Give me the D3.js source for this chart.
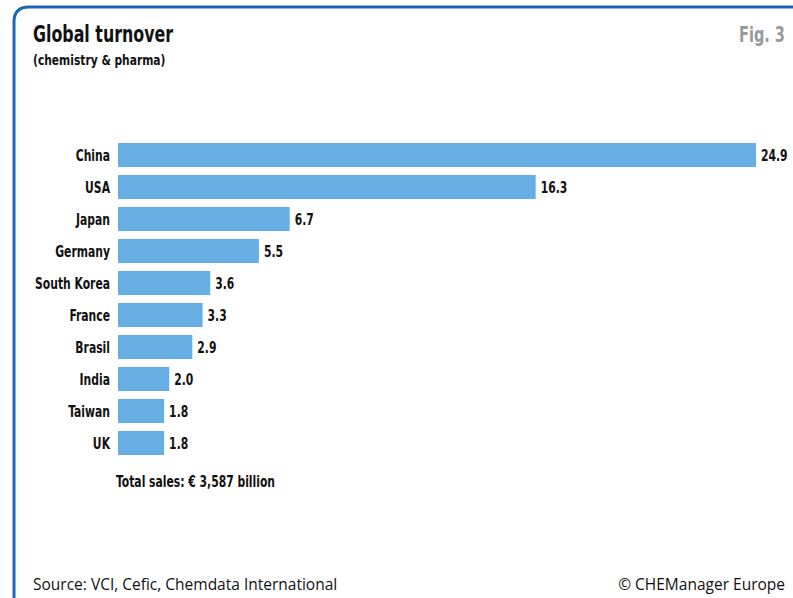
<!DOCTYPE html>
<html>
<head>
<meta charset="utf-8">
<script src="https://d3js.org/d3.v7.min.js"></script>
<style>
body { margin: 0; background: #fff; }
svg { display: block; }
.cond { font-family: "DejaVu Sans Condensed", "Liberation Sans Narrow", sans-serif; font-weight: bold; fill: #111; }
.foot { font-family: "Open Sans", "Noto Sans", sans-serif; fill: #111; }
</style>
</head>
<body>
<svg id="chart" width="793" height="598"></svg>
<script>
  // values
  var countries = ["China", "USA", "Japan", "Germany", "South Korea", "France", "Brasil", "India", "Taiwan", "UK"];
  var turnover = [24.9, 16.3, 6.7, 5.5, 3.6, 3.3, 2.9, 2.0, 1.8, 1.8];
  var valueLabels = ["24.9", "16.3", "6.7", "5.5", "3.6", "3.3", "2.9", "2.0", "1.8", "1.8"];

  var svg = d3.select("#chart");

  // squeeze the font horizontally to get a condensed look
  function condText(px, py, size, sx, anchor, txt, fill) {
    return svg.append("text").attr("class", "cond")
        .attr("transform", "translate(" + px + "," + py + ") scale(" + sx + ",1)")
        .attr("text-anchor", anchor)
        .style("font-size", size + "px")
        .style("fill", fill || "#111")
        .text(txt);
  }

  // frame: rounded blue line along top and left
  svg.append("path")
      .attr("d", "M14,598 L14,22 Q14,7 29,7 L793,7")
      .attr("fill", "none")
      .attr("stroke", "#1a64b9")
      .attr("stroke-width", 3);

  condText(33, 42, 23.5, 0.75, "start", "Global turnover");
  condText(33, 65, 14, 0.85, "start", "(chemistry & pharma)");
  condText(785, 42, 21, 0.77, "end", "Fig. 3", "#999");

  var x = d3.scaleLinear()
      .domain([0, 24.9])
      .range([118, 756]);

  var y = d3.scaleBand()
      .domain(countries)
      .range([143, 455])
      .paddingInner(0.25)
      .paddingOuter(0);

  var rows = svg.selectAll(".row")
      .data(countries)
    .enter().append("g")
      .attr("class", "row");

  rows.append("rect")
      .attr("x", x(0))
      .attr("y", function(d) { return y(d); })
      .attr("width", function(d, i) { return x(turnover[i]) - x(0); })
      .attr("height", y.bandwidth())
      .attr("fill", "#67aee4");

  rows.append("text").attr("class", "cond")
      .attr("transform", function(d) {
        return "translate(110," + (y(d) + y.bandwidth() / 2 + 5.5) + ") scale(0.8,1)";
      })
      .attr("text-anchor", "end")
      .style("font-size", "15px")
      .text(function(d) { return d; });

  rows.append("text").attr("class", "cond")
      .attr("transform", function(d, i) {
        return "translate(" + (x(turnover[i]) + 5) + "," + (y(d) + y.bandwidth() / 2 + 5.5) + ") scale(0.8,1)";
      })
      .style("font-size", "15px")
      .text(function(d, i) { return valueLabels[i]; });

  condText(116, 487, 15, 0.8, "start", "Total sales: € 3,587 billion");

  svg.append("text").attr("class", "foot")
      .attr("x", 33).attr("y", 590)
      .style("font-size", "15.5px")
      .text("Source: VCI, Cefic, Chemdata International");

  svg.append("text").attr("class", "foot")
      .attr("x", 785).attr("y", 590)
      .attr("text-anchor", "end")
      .style("font-size", "15.5px")
      .text("© CHEManager Europe");
</script>
</body>
</html>
